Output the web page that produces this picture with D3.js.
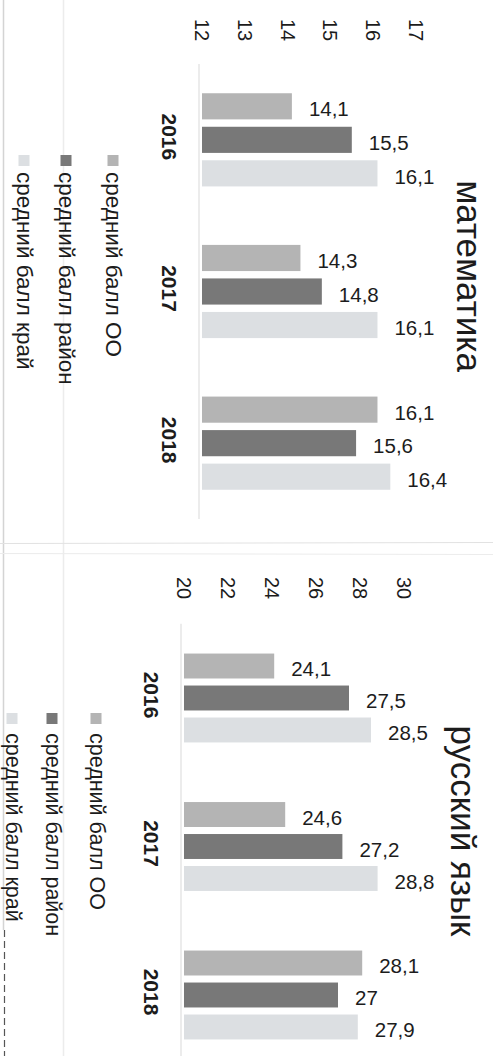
<!DOCTYPE html>
<html>
<head>
<meta charset="utf-8">
<script src="https://cdn.jsdelivr.net/npm/d3@7/dist/d3.min.js"></script>
<style>
  html, body { margin: 0; padding: 0; background: #ffffff; }
  svg { display: block; }
  text { font-family: "Liberation Sans", Arial, sans-serif; fill: #1c1c1c; }
</style>
</head>
<body>
<svg id="chart" width="493" height="1056"></svg>
<script>
// ---- data ----
const years = ["2016", "2017", "2018"];
const seriesNames = ["средний балл ОО", "средний балл район", "средний балл край"];
const mathOO    = [14.1, 14.3, 16.1];
const mathRayon = [15.5, 14.8, 15.6];
const mathKray  = [16.1, 16.1, 16.4];
const rusOO     = [24.1, 24.6, 28.1];
const rusRayon  = [27.5, 27.2, 27.0];
const rusKray   = [28.5, 28.8, 27.9];
const mathTicks = [12, 13, 14, 15, 16, 17];
const rusTicks  = [20, 22, 24, 26, 28, 30];
const titles = ["математика", "русский язык"];

const colors = ["#b4b4b4", "#787878", "#dcdfe2"];
const svg = d3.select("#chart");

// page frame / scan lines
svg.append("line").attr("x1", 3.5).attr("x2", 3.5).attr("y1", 0).attr("y2", 930)
  .attr("stroke", "#d4d4d4").attr("stroke-width", 1.5);
svg.append("line").attr("x1", 4.5).attr("x2", 4.5).attr("y1", 930).attr("y2", 1056)
  .attr("stroke", "#555").attr("stroke-width", 1.2).attr("stroke-dasharray", "7,4");
svg.append("line").attr("x1", 63.5).attr("x2", 63.5).attr("y1", 0).attr("y2", 1056)
  .attr("stroke", "#ececec").attr("stroke-width", 1.5);
svg.append("line").attr("x1", 0).attr("x2", 493).attr("y1", 543.5).attr("y2", 542.5)
  .attr("stroke", "#e2e2e2").attr("stroke-width", 1.2);
svg.append("line").attr("x1", 0).attr("x2", 493).attr("y1", 553.5).attr("y2", 554.5)
  .attr("stroke", "#ececec").attr("stroke-width", 1);

function rotText(g, x, y, str, opts) {
  return g.append("text")
    .attr("transform", `translate(${x},${y}) rotate(90)`)
    .attr("text-anchor", opts.anchor || "middle")
    .attr("dy", opts.dy || "0.35em")
    .attr("font-size", opts.size)
    .attr("font-weight", opts.weight || "normal")
    .text(str);
}

function fmt(v) { return String(v).replace(".", ","); }

function drawChart(cfg) {
  const g = svg.append("g");
  const x = d3.scaleLinear().domain(cfg.xDomain).range(cfg.xRange);
  const y0 = d3.scaleBand().domain(years).range(cfg.yRange)
    .paddingInner(cfg.groupPad).paddingOuter(cfg.groupPad / 2);
  const y1 = d3.scaleBand().domain(seriesNames).range([0, y0.bandwidth()])
    .paddingInner(0.22).paddingOuter(0.11);

  // baseline axis line
  g.append("line")
    .attr("x1", x(cfg.xDomain[0]) - 3).attr("x2", x(cfg.xDomain[0]) - 3)
    .attr("y1", cfg.yRange[0]).attr("y2", Math.min(cfg.yRange[1], 1056))
    .attr("stroke", "#e6e6e6").attr("stroke-width", 1.5);

  // ticks (rotated)
  cfg.ticks.forEach(t => rotText(g, x(t), cfg.tickY, String(t), { size: 20 }));

  // year labels
  years.forEach(yr => rotText(g, cfg.yearX, y0(yr) + y0.bandwidth() / 2 - 3, yr,
    { size: 21, weight: "bold" }));

  // bars
  const rows = [];
  years.forEach((yr, i) => {
    cfg.series.forEach((arr, s) => rows.push({ yr, s, v: arr[i] }));
  });
  g.selectAll("rect.bar").data(rows).enter().append("rect")
    .attr("class", "bar")
    .attr("x", x(cfg.xDomain[0]))
    .attr("y", d => y0(d.yr) + y1(seriesNames[d.s]))
    .attr("width", d => x(d.v) - x(cfg.xDomain[0]))
    .attr("height", y1.bandwidth())
    .attr("fill", d => colors[d.s]);

  // value labels (upright)
  g.selectAll("text.val").data(rows).enter().append("text")
    .attr("class", "val")
    .attr("x", d => x(d.v) + 17)
    .attr("y", d => y0(d.yr) + y1(seriesNames[d.s]) + y1.bandwidth() / 2 + 3)
    .attr("dy", "0.35em")
    .attr("font-size", 20.5)
    .text(d => fmt(d.v));

  // title
  rotText(g, cfg.titleX, cfg.titleY, cfg.title, { size: 35, dy: "0.26em" });

  // legend
  seriesNames.forEach((name, s) => {
    const lx = cfg.legendX[s];
    g.append("rect")
      .attr("x", lx - 5.5).attr("y", cfg.markerY)
      .attr("width", 11).attr("height", 11)
      .attr("fill", colors[s]);
    rotText(g, lx, cfg.legendY, name, { size: cfg.legendSize, anchor: "start", dy: "0.3em" });
  });
}

drawChart({
  title: titles[0],
  series: [mathOO, mathRayon, mathKray],
  xDomain: [12, 17], xRange: [202, 416],
  yRange: [64, 519], groupPad: 0.337,
  ticks: mathTicks, tickY: 30, yearX: 169,
  titleX: 466, titleY: 276,
  legendX: [113, 66, 24], legendY: 172, markerY: 155, legendSize: 22.5
});

drawChart({
  title: titles[1],
  series: [rusOO, rusRayon, rusKray],
  xDomain: [20, 30], xRange: [184, 404],
  yRange: [623.75, 1069.25], groupPad: 0.354,
  ticks: rusTicks, tickY: 588, yearX: 151,
  titleX: 460, titleY: 831,
  legendX: [96, 52, 12], legendY: 733, markerY: 713, legendSize: 21.5
});
</script>
</body>
</html>
